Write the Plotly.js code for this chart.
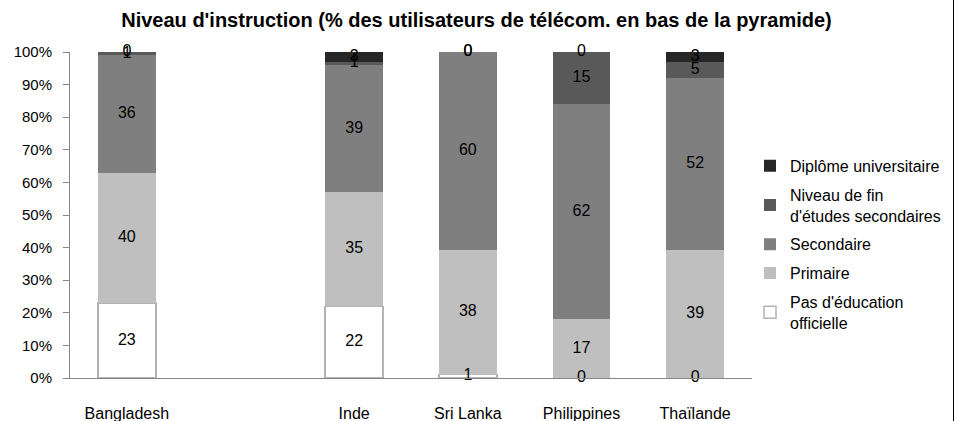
<!DOCTYPE html>
<html><head><meta charset="utf-8">
<script src="https://cdn.plot.ly/plotly-3.0.1.min.js"></script>
<style>body{margin:0;background:#fff}#chart{width:953px;height:421px;border-right:1px solid #000}</style>
</head><body><div id="chart"></div>
<script>
const categories = ['Bangladesh', ' ', 'Inde', 'Sri Lanka', 'Philippines', 'Thaïlande'];
const seriesNames = ["Pas d'éducation<br>officielle", 'Primaire', 'Secondaire', "Niveau de fin<br>d'études secondaires", 'Diplôme universitaire'];
const pasEducation = [23, null, 22, 1, 0, 0];
const primaire = [40, null, 35, 38, 17, 39];
const secondaire = [36, null, 39, 60, 62, 52];
const niveauFin = [1, null, 1, 0, 15, 5];
const diplome = [0, null, 3, 0, 0, 3];
const yTicks = [0, 10, 20, 30, 40, 50, 60, 70, 80, 90, 100];

const series = [pasEducation, primaire, secondaire, niveauFin, diplome];
const colors = ['#ffffff', '#bfbfbf', '#7f7f7f', '#595959', '#262626'];

const traces = series.map((vals, k) => ({
  type: 'bar', x: categories, y: vals, name: seriesNames[k],
  legendgroup: 'g' + k, legendrank: 10 - k,
  marker: {color: colors[k], line: {color: k === 0 ? '#b3b3b3' : colors[k], width: k === 0 ? 1.5 : 0}},
  hoverinfo: 'skip'
}));

// data labels at normalized segment midpoints
const lx = [], ly = [], lt = [];
categories.forEach((c, i) => {
  const vals = series.map(s => s[i]);
  if (vals.some(v => v === null)) return;
  const total = vals.reduce((a, b) => a + b, 0);
  let cum = 0;
  vals.forEach(v => {
    lx.push(c); ly.push((cum + v / 2) / total * 100); lt.push(String(v));
    cum += v;
  });
});
traces.push({
  type: 'scatter', mode: 'text', x: lx, y: ly, text: lt, showlegend: false,
  textposition: 'middle center', cliponaxis: false, hoverinfo: 'skip',
  textfont: {family: 'Liberation Sans, Arial, sans-serif', size: 16, color: '#000'}
});

const layout = {
  width: 953, height: 421,
  margin: {l: 70, r: 201, t: 52, b: 43, autoexpand: false},
  paper_bgcolor: '#fff', plot_bgcolor: '#fff',
  font: {family: 'Liberation Sans, Arial, sans-serif', size: 15, color: '#000'},
  title: {text: "<b>Niveau d'instruction (% des utilisateurs de télécom. en bas de la pyramide)</b>",
    font: {size: 20, color: '#000'}, x: 0.5, xref: 'container', y: 1 - 20 / 421, yref: 'container', yanchor: 'middle'},
  barmode: 'stack', barnorm: 'percent', bargap: 0.49,
  xaxis: {type: 'category', categoryorder: 'array', categoryarray: categories,
    showline: true, linecolor: '#868686', linewidth: 1, ticks: '', showgrid: false, zeroline: false,
    ticklabelstandoff: 21, tickfont: {size: 16}},
  yaxis: {range: [0, 100], tickvals: yTicks, ticktext: yTicks.map(v => v + '%'),
    showline: true, linecolor: '#868686', linewidth: 1, ticks: 'outside', ticklen: 6, tickcolor: '#868686',
    showgrid: false, zeroline: false, ticklabelstandoff: 8, tickfont: {size: 15}},
  legend: {traceorder: 'grouped', tracegroupgap: 5, xref: 'container', x: 0.787, xanchor: 'left', y: 0.41, yanchor: 'middle',
    bgcolor: 'rgba(0,0,0,0)', font: {size: 16}},
  showlegend: true
};

Plotly.newPlot('chart', traces, layout, {displayModeBar: false, staticPlot: true});
</script></body></html>
